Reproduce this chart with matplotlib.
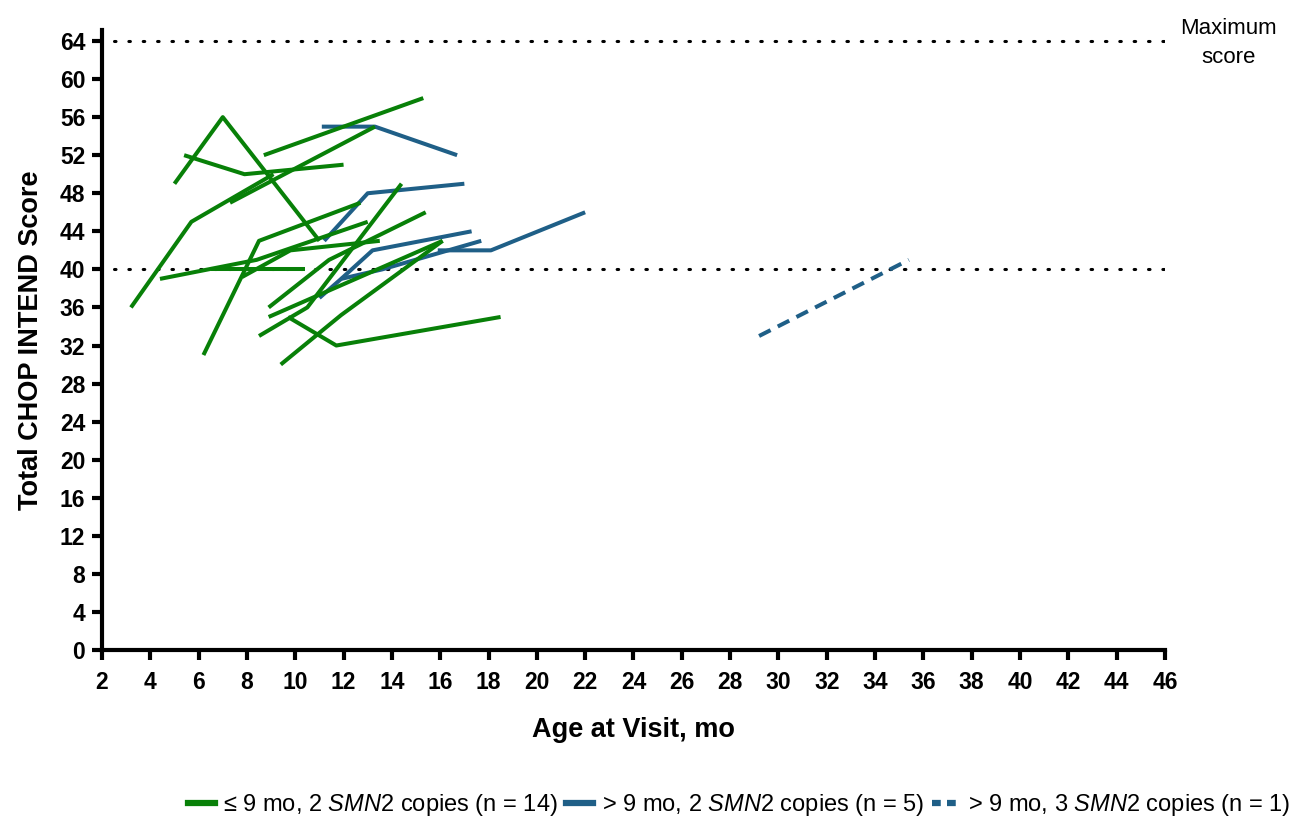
import matplotlib
matplotlib.use("Agg")
import matplotlib.pyplot as plt
from matplotlib.lines import Line2D

plt.rcParams['font.family'] = ['Liberation Sans', 'DejaVu Sans']
plt.rcParams['mathtext.fontset'] = 'custom'
plt.rcParams['mathtext.it'] = 'Liberation Sans:italic'
plt.rcParams['mathtext.rm'] = 'Liberation Sans'

GREEN = '#088008'
BLUE = '#1f5f87'

# Age at visit (mo) and total CHOP INTEND score, one pair of lists per patient
green_ages = [
    [3.2, 5.7, 9.1], [5.0, 7.0, 11.0], [5.4, 7.9, 12.0], [7.3, 13.3],
    [8.7, 15.3], [6.2, 8.5, 12.7], [4.4, 8.4, 13.0], [6.5, 10.4],
    [7.8, 9.8, 13.5], [9.7, 11.7, 18.5], [9.4, 11.9, 16.1],
    [8.5, 10.5, 14.4], [8.9, 11.4, 15.4], [8.9, 16.1],
]
green_scores = [
    [36, 45, 50], [49, 56, 43], [52, 50, 51], [47, 55],
    [52, 58], [31, 43, 47], [39, 41, 45], [40, 40],
    [39.2, 42, 43], [35, 32, 35], [30, 35.2, 43],
    [33, 36, 49], [36, 41, 46], [35, 43],
]
blue_ages = [
    [11.1, 13.3, 16.7], [11.2, 13.0, 17.0], [11.9, 13.2, 17.3],
    [11.0, 11.9, 13.6, 17.7], [15.9, 18.1, 22.0],
]
blue_scores = [
    [55, 55, 52], [43, 48, 49], [39, 42, 44],
    [37, 39, 40, 43], [42, 42, 46],
]
dashed_ages = [29.2, 35.4]
dashed_scores = [33, 41]

legend_labels = [
    r'≤ 9 mo, 2 $\it{SMN2}$ copies (n = 14)',
    r'> 9 mo, 2 $\it{SMN2}$ copies (n = 5)',
    r'> 9 mo, 3 $\it{SMN2}$ copies (n = 1)',
]

fig = plt.figure(figsize=(12.99, 8.19), dpi=100)
ax = fig.add_axes([0.0785, 0.2063, 0.8183, 0.7576])

# reference lines
for yref in (64, 40):
    ax.plot([2.5, 46], [yref, yref], color='black', lw=2.2,
            linestyle=(0, (0.5, 4.2)), dash_capstyle='round', zorder=1)

for xs, ys in zip(green_ages, green_scores):
    ax.plot(xs, ys, color=GREEN, lw=2.9, solid_capstyle='butt', zorder=3)
for xs, ys in zip(blue_ages, blue_scores):
    ax.plot(xs, ys, color=BLUE, lw=2.9, solid_capstyle='butt', zorder=2)
ax.plot(dashed_ages, dashed_scores, color=BLUE, lw=2.9,
        linestyle=(0, (3.2, 2.0)), zorder=2)

ax.set_xlim(2, 46)
ax.set_ylim(0, 65.2)
ax.set_xticks(range(2, 47, 2))
ax.set_yticks(range(0, 65, 4))

for s in ('top', 'right'):
    ax.spines[s].set_visible(False)
for s in ('left', 'bottom'):
    ax.spines[s].set_linewidth(3)
ax.tick_params(axis='both', width=3, length=7, labelsize=16.5)
ax.tick_params(axis='x', pad=8)
ax.tick_params(axis='y', pad=5)
for lbl in ax.get_xticklabels() + ax.get_yticklabels():
    lbl.set_fontweight('bold')

ax.set_xlabel('Age at Visit, mo', fontsize=19.5, fontweight='bold', labelpad=17)
ax.set_ylabel('Total CHOP INTEND Score', fontsize=19.5, fontweight='bold', labelpad=11)

fig.text(0.9455, 0.948, 'Maximum\nscore', ha='center', va='center',
         fontsize=16, linespacing=1.5)

handles = [
    Line2D([], [], color=GREEN, lw=4.5),
    Line2D([], [], color=BLUE, lw=4.5),
    Line2D([], [], color=BLUE, lw=4.5, linestyle=(0, (1.4, 1.0))),
]
fig.legend(handles, legend_labels, loc='center right',
           bbox_to_anchor=(1.004, 0.017), ncol=3, frameon=False, fontsize=17,
           handlelength=1.15, handletextpad=0.35, columnspacing=0.35,
           borderpad=0.1)

fig.savefig('out.png', dpi=100)
